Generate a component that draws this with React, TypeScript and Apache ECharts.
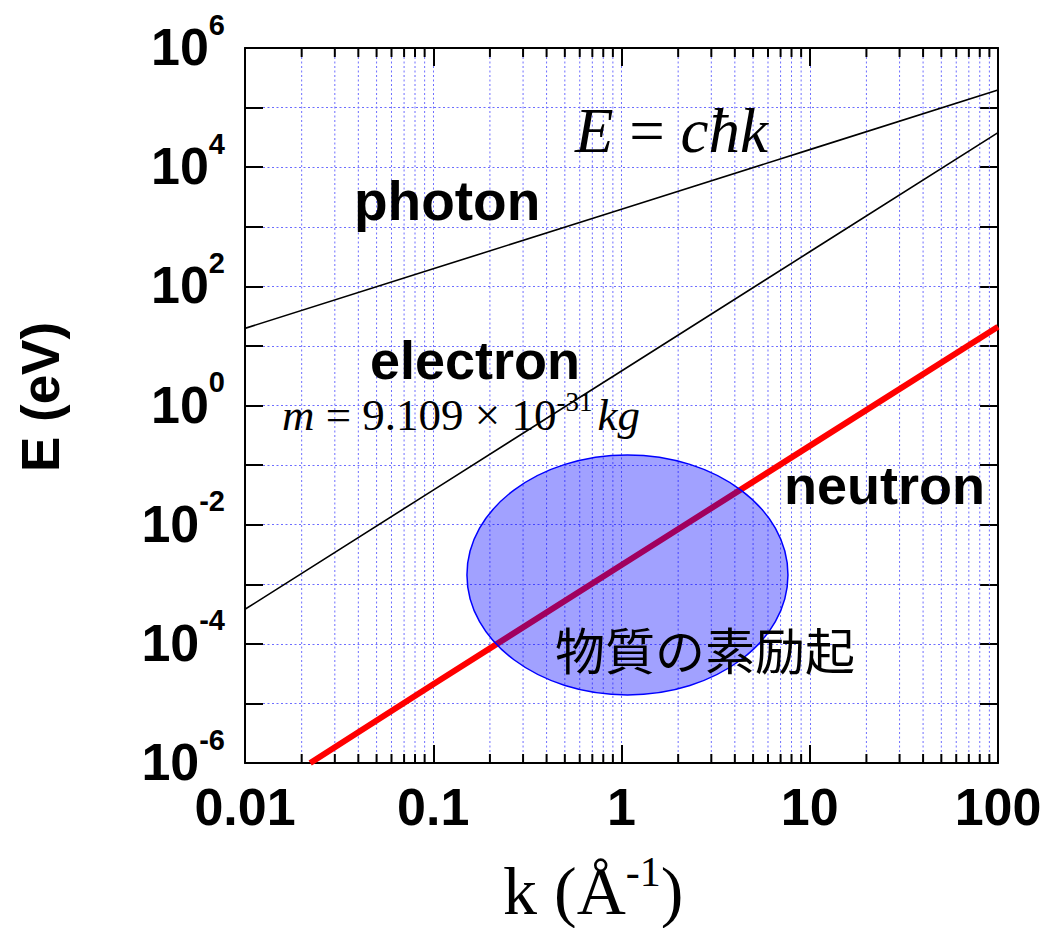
import React, { useEffect, useRef } from 'react';
import * as echarts from 'echarts';

// Axis ticks
const xTickLabels = ['0.01', '0.1', '1', '10', '100'];
const yLabelExponents = [-6, -4, -2, 0, 2, 4, 6];
const minorDecades = [0.01, 0.1, 1, 10];
const minorSteps = [2, 3, 4, 5, 6, 7, 8, 9];

// Dispersion curves (k in 1/Å, E in eV)
const photonK = [0.01, 0.1, 1, 10, 100];
const photonE = [19.7, 197, 1970, 19700, 197000];
const electronK = [0.01, 0.1, 1, 10, 100];
const electronE = [0.00038, 0.038, 3.8, 380, 38000];
const neutronK = [0.0222, 0.1, 1, 10, 100];
const neutronE = [0.000001, 0.000021, 0.0021, 0.21, 21];

// Region of elementary excitations in matter (bounding box of the ellipse)
const ellipseK = [0.151, 7.66];
const ellipseE = [0.0000139, 0.148];

const SANS = '"Liberation Sans", Arial, Helvetica, sans-serif';
const SERIF = '"Liberation Serif", "Times New Roman", serif';
const CJK = '"Noto Sans CJK JP", "Noto Sans CJK SC", sans-serif';
const GRID_COLOR = '#6e6eff';
const GRID_DASH = [2, 2.5];

export default function App() {
  const ref = useRef<HTMLDivElement>(null);
  useEffect(() => {
    if (!ref.current) return;
    const chart = echarts.init(ref.current, undefined, { renderer: 'svg' });
    const minorValues: number[] = [];
    minorDecades.forEach((d) => minorSteps.forEach((s) => minorValues.push(d * s)));
    const xLabelOf = (v: number) => {
      const idx = Math.round(Math.log10(v)) + 2;
      return xTickLabels[idx] ?? '';
    };
    const yLabelOf = (v: number) => {
      const e = Math.round(Math.log10(v));
      if (!yLabelExponents.includes(e)) return '';
      return '{b|10}{s|' + e + '}';
    };
    const xBase = {
      type: 'log' as const,
      logBase: 10,
      min: 0.01,
      max: 100,
      axisLine: { show: true, lineStyle: { color: '#000', width: 2 } },
      axisTick: { show: true, inside: true, length: 18, lineStyle: { color: '#000', width: 2 } },
    };
    const yBase = {
      type: 'log' as const,
      logBase: 10,
      min: 1e-6,
      max: 1e6,
      interval: 1,
      splitNumber: 12,
      axisLine: { show: true, lineStyle: { color: '#000', width: 2 } },
      axisTick: { show: true, inside: true, length: 18, lineStyle: { color: '#000', width: 2 } },
    };
    chart.setOption({
      animation: false,
      backgroundColor: '#fff',
      grid: { left: 245, top: 48, right: 48, bottom: 165, containLabel: false },
      xAxis: [
        {
          ...xBase,
          position: 'bottom',
          axisLabel: {
            show: true,
            formatter: xLabelOf,
            fontFamily: SANS,
            fontWeight: 'bold',
            fontSize: 52,
            color: '#000',
            margin: 18,
          },
          splitLine: { show: true, lineStyle: { color: GRID_COLOR, width: 1, type: GRID_DASH } },
        },
        {
          ...xBase,
          position: 'top',
          axisLabel: { show: false },
          splitLine: { show: false },
        },
      ],
      yAxis: [
        {
          ...yBase,
          position: 'left',
          axisLabel: {
            show: true,
            formatter: yLabelOf,
            margin: 20,
            color: '#000',
            rich: {
              b: {
                fontFamily: SANS,
                fontWeight: 'bold',
                fontSize: 52,
                lineHeight: 50,
                verticalAlign: 'bottom',
                color: '#000',
              },
              s: {
                fontFamily: SANS,
                fontWeight: 'bold',
                fontSize: 29,
                lineHeight: 30,
                padding: [0, 0, 34, 0],
                verticalAlign: 'bottom',
                color: '#000',
              },
            },
          },
          splitLine: { show: true, lineStyle: { color: GRID_COLOR, width: 1, type: GRID_DASH } },
        },
        {
          ...yBase,
          position: 'right',
          axisLabel: { show: false },
          splitLine: { show: false },
        },
      ],
      series: [
        {
          type: 'custom',
          name: 'minor',
          z: 1,
          silent: true,
          data: minorValues.map((v) => [v, 1]),
          renderItem: (_params: any, api: any) => {
            const v = api.value(0);
            const top = api.coord([v, 1e6]);
            const bot = api.coord([v, 1e-6]);
            return {
              type: 'group',
              children: [
                {
                  type: 'line',
                  shape: { x1: top[0], y1: top[1], x2: bot[0], y2: bot[1] },
                  style: { stroke: GRID_COLOR, lineWidth: 1, lineDash: GRID_DASH },
                },
                {
                  type: 'line',
                  shape: { x1: bot[0], y1: bot[1], x2: bot[0], y2: bot[1] - 9 },
                  style: { stroke: '#000', lineWidth: 2 },
                },
                {
                  type: 'line',
                  shape: { x1: top[0], y1: top[1], x2: top[0], y2: top[1] + 9 },
                  style: { stroke: '#000', lineWidth: 2 },
                },
              ],
            };
          },
        },
        {
          type: 'line',
          name: 'photon',
          z: 3,
          symbol: 'none',
          data: photonK.map((k, i) => [k, photonE[i]]),
          lineStyle: { color: '#000', width: 1.6 },
        },
        {
          type: 'line',
          name: 'electron',
          z: 3,
          symbol: 'none',
          data: electronK.map((k, i) => [k, electronE[i]]),
          lineStyle: { color: '#000', width: 1.6 },
        },
        {
          type: 'line',
          name: 'neutron',
          z: 3,
          symbol: 'none',
          data: neutronK.map((k, i) => [k, neutronE[i]]),
          lineStyle: { color: '#ff0000', width: 6 },
        },
        {
          type: 'custom',
          name: 'excitations',
          z: 4,
          silent: true,
          encode: { x: [0, 2], y: [1, 3] },
          data: [[ellipseK[0], ellipseE[0], ellipseK[1], ellipseE[1]]],
          renderItem: (_params: any, api: any) => {
            const p1 = api.coord([api.value(0), api.value(1)]);
            const p2 = api.coord([api.value(2), api.value(3)]);
            return {
              type: 'ellipse',
              shape: {
                cx: (p1[0] + p2[0]) / 2,
                cy: (p1[1] + p2[1]) / 2,
                rx: Math.abs(p2[0] - p1[0]) / 2,
                ry: Math.abs(p2[1] - p1[1]) / 2,
              },
              style: { fill: 'rgba(0,0,255,0.37)', stroke: '#0000ff', lineWidth: 1.5 },
            };
          },
        },
      ],
      graphic: [
        {
          type: 'text',
          z: 100,
          x: 575,
          y: 131,
          style: {
            text: '{i|E}{n| = }{i|cħk}',
            verticalAlign: 'middle',
            rich: {
              i: { fontFamily: SERIF, fontStyle: 'italic', fontSize: 63, lineHeight: 60, fill: '#000' },
              n: { fontFamily: SERIF, fontSize: 63, lineHeight: 60, fill: '#000' },
            },
          },
        },
        {
          type: 'text',
          z: 100,
          x: 354,
          y: 201,
          style: { text: 'photon', font: `bold 55px ${SANS}`, fill: '#000', verticalAlign: 'middle' },
        },
        {
          type: 'text',
          z: 100,
          x: 370,
          y: 360,
          style: { text: 'electron', font: `bold 54px ${SANS}`, fill: '#000', verticalAlign: 'middle' },
        },
        {
          type: 'text',
          z: 100,
          x: 282,
          y: 417,
          style: {
            text: '{i|m}{n| = 9.109 × 10}{s|-31}{k|kg}',
            verticalAlign: 'middle',
            rich: {
              i: { fontFamily: SERIF, fontStyle: 'italic', fontSize: 45, lineHeight: 40, verticalAlign: 'bottom', fill: '#000' },
              k: { fontFamily: SERIF, fontStyle: 'italic', fontSize: 45, lineHeight: 40, padding: [0, 0, 0, 5], verticalAlign: 'bottom', fill: '#000' },
              n: { fontFamily: SERIF, fontSize: 45, lineHeight: 40, verticalAlign: 'bottom', fill: '#000' },
              s: { fontFamily: SERIF, fontSize: 27, lineHeight: 24, padding: [0, 0, 22, 0], verticalAlign: 'bottom', fill: '#000' },
            },
          },
        },
        {
          type: 'text',
          z: 100,
          x: 784,
          y: 485,
          style: { text: 'neutron', font: `bold 54px ${SANS}`, fill: '#000', verticalAlign: 'middle' },
        },
        {
          type: 'text',
          z: 100,
          x: 555,
          y: 648,
          style: { text: '物質の素励起', font: `50px ${CJK}`, fill: '#000', verticalAlign: 'middle' },
        },
        {
          type: 'text',
          z: 100,
          x: 40,
          y: 397,
          rotation: Math.PI / 2,
          style: {
            text: 'E (eV)',
            font: `bold 53px ${SANS}`,
            fill: '#000',
            align: 'center',
            verticalAlign: 'middle',
          },
        },
        {
          type: 'text',
          z: 100,
          x: 503,
          y: 892,
          style: {
            text: '{n|k (Å}{s|-1}{n|)}',
            verticalAlign: 'middle',
            rich: {
              n: { fontFamily: SERIF, fontSize: 68, lineHeight: 66, verticalAlign: 'bottom', fill: '#000' },
              s: { fontFamily: SERIF, fontSize: 42, lineHeight: 40, padding: [0, 0, 32, 0], verticalAlign: 'bottom', fill: '#000' },
            },
          },
        },
      ],
    });
    return () => chart.dispose();
  }, []);
  return (
    <div
      ref={ref}
      style={{ position: 'absolute', left: 0, top: 0, width: 1046, height: 928, background: '#fff' }}
    />
  );
}
